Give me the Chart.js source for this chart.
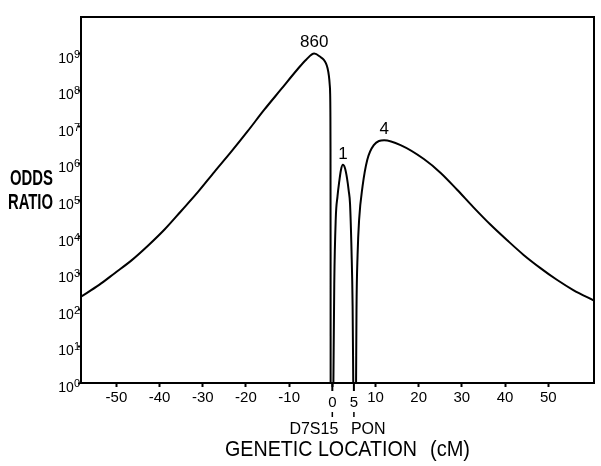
<!DOCTYPE html>
<html>
<head>
<meta charset="utf-8">
<script src="https://cdn.jsdelivr.net/npm/chart.js@4.4.1/dist/chart.umd.min.js"></script>
<style>
body{margin:0;background:#fff}
#wrap{width:601px;height:466px}
</style>
</head>
<body>
<div id="wrap"><canvas id="chartCanvas" width="601" height="466"></canvas></div>
<script>
// genetic location (cM) and log10(odds ratio)
let leftX=[-58.2,-54,-50.4,-46.5,-42.7,-38.8,-35,-31.1,-27.3,-23.4,-19.6,-15.8,-11.9,-8,-6,-4.2,-2.66,-1.96,-1.5,-1.1,-0.8,-0.6,-0.5,-0.45,-0.42,-0.4,-0.39]
let leftLog=[2.36,2.68,3.0,3.35,3.75,4.2,4.7,5.22,5.77,6.32,6.88,7.46,8.02,8.58,8.84,9.0,8.9,8.83,8.74,8.6,8.4,8.15,7.9,7.4,6.4,3.6,0]
let bumpX=[0.25,0.45,0.8,1.2,1.6,2.0,2.45,2.9,3.4,3.8,4.1,4.45,4.7,4.85]
let bumpLog=[0,2.7,4.5,5.1,5.5,5.82,5.96,5.88,5.6,5.25,4.9,3.6,2.1,0]
let rightX=[5.5,5.6,5.85,6.2,7.0,8.1,9.6,12.0,15.8,21.2,25.1,28.9,32.7,36.6,40.5,44.3,48.2,52.0,55.8,60.6]
let rightLog=[0,2.0,3.5,4.45,5.37,6.1,6.5,6.63,6.5,6.12,5.74,5.28,4.8,4.33,3.9,3.5,3.14,2.82,2.54,2.25]

let peakLabels=["860","1","4"]
let xTicks=[-50,-40,-30,-20,-10,0,10,20,30,40,50]
let yTickExps=[0,1,2,3,4,5,6,7,8,9]
let markerPos=[0,5]
let markerNames=["D7S15","PON"]

let toPoints=(xs,logs)=>xs.map((v,i)=>({x:v,y:Math.pow(10,logs[i])}))

let drawCondensed=(ctx,text,cx,cy,w,font)=>{
    ctx.font=font
    let m=ctx.measureText(text).width
    ctx.save()
    ctx.translate(cx,cy)
    ctx.scale(w/m,1)
    ctx.textAlign="center"
    ctx.textBaseline="middle"
    ctx.fillText(text,0,0)
    ctx.restore()
}

let extras={
    id:"extras",
    afterDraw(chart){
        let ctx=chart.ctx,a=chart.chartArea,x=chart.scales.x,y=chart.scales.y
        ctx.save()
        ctx.strokeStyle="#000"
        ctx.fillStyle="#000"
        ctx.lineWidth=2
        ctx.strokeRect(a.left,a.top,a.right-a.left,a.bottom-a.top)

        // y tick labels as 10 with a raised exponent
        ctx.textBaseline="alphabetic"
        ctx.textAlign="right"
        y.ticks.forEach(t=>{
            let py=y.getPixelForValue(t.value)
            let e=String(Math.round(Math.log10(t.value)))
            let right=a.left-1
            ctx.font='11px "Liberation Sans"'
            let ew=ctx.measureText(e).width
            ctx.fillText(e,right,py+4)
            ctx.font='14px "Liberation Sans"'
            ctx.fillText("10",right-ew,py+9)
        })

        // peak labels above each curve's maximum
        ctx.font='17px "Liberation Sans"'
        ctx.textAlign="center"
        ctx.textBaseline="middle"
        chart.data.datasets.forEach((ds,i)=>{
            let top=ds.data.reduce((m,p)=>p.y>m.y?p:m)
            ctx.fillText(peakLabels[i],x.getPixelForValue(top.x),y.getPixelForValue(top.y)-11)
        })

        // marker loci
        markerPos.forEach((m,i)=>{
            let px=x.getPixelForValue(m)
            ctx.lineWidth=2
            ctx.beginPath()
            ctx.moveTo(px,a.bottom)
            ctx.lineTo(px,a.bottom+8)
            ctx.stroke()
            ctx.font='15px "Liberation Sans"'
            ctx.textAlign="center"
            ctx.fillText(String(m),px,a.bottom+20)
            ctx.lineWidth=1.5
            ctx.beginPath()
            ctx.moveTo(px,a.bottom+29)
            ctx.lineTo(px,a.bottom+34)
            ctx.stroke()
            ctx.font='16px "Liberation Sans"'
            ctx.textAlign=i===0?"right":"left"
            ctx.fillText(markerNames[i],i===0?px+6:px-3,a.bottom+47)
        })

        // axis titles
        drawCondensed(ctx,"ODDS",31.5,179,43,'bold 22px "Liberation Sans"')
        drawCondensed(ctx,"RATIO",30.5,202.5,45,'bold 22px "Liberation Sans"')
        drawCondensed(ctx,"GENETIC LOCATION",321,450,192,'22px "Liberation Sans"')
        drawCondensed(ctx,"(cM)",450,450,40,'22px "Liberation Sans"')
        ctx.restore()
    }
}

let lineStyle={borderColor:"#000",borderWidth:2,pointRadius:0,fill:false,cubicInterpolationMode:"monotone"}

new Chart(document.querySelector("#chartCanvas"),{
    type:"line",
    data:{
        datasets:[
            {data:toPoints(leftX,leftLog),...lineStyle},
            {data:toPoints(bumpX,bumpLog),...lineStyle},
            {data:toPoints(rightX,rightLog),...lineStyle}
        ]
    },
    options:{
        responsive:false,
        animation:false,
        events:[],
        layout:{padding:{left:0,right:7,top:17,bottom:0}},
        plugins:{legend:{display:false},tooltip:{enabled:false}},
        scales:{
            x:{
                type:"linear",
                min:-58.2,
                max:60.6,
                afterBuildTicks:s=>{s.ticks=xTicks.map(v=>({value:v}))},
                afterFit:s=>{s.height=83},
                grid:{drawOnChartArea:false,drawTicks:true,tickLength:4,color:"#000",tickWidth:2},
                border:{display:true,color:"#000",width:2},
                ticks:{
                    color:"#000",
                    padding:2,
                    maxRotation:0,
                    autoSkip:false,
                    font:{family:"Liberation Sans",size:15},
                    callback:v=>v===0?"":String(v)
                }
            },
            y:{
                type:"logarithmic",
                min:1,
                max:1e10,
                afterBuildTicks:s=>{s.ticks=yTickExps.map(e=>({value:Math.pow(10,e)}))},
                afterFit:s=>{s.width=81},
                grid:{drawOnChartArea:false,drawTicks:true,tickLength:3,color:"#000",tickWidth:2},
                border:{display:true,color:"#000",width:2},
                ticks:{display:false}
            }
        }
    },
    plugins:[extras]
})
</script>
</body>
</html>
